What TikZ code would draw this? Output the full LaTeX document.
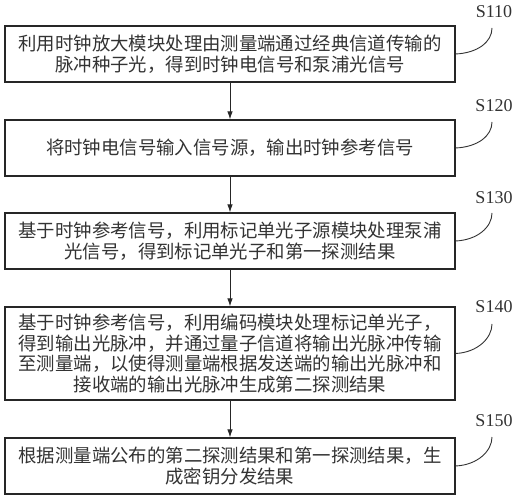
\documentclass[tikz,border=0pt]{standalone}
\usepackage{fontspec}
\setmainfont{Liberation Serif}
\newfontfamily\cjk{Noto Sans CJK SC}
\usetikzlibrary{arrows.meta}
\begin{document}
\begin{tikzpicture}[x=1pt,y=-1pt,
  stepbox/.style={draw=black!85,line width=1.1pt,minimum width=450pt,inner sep=0pt,
     align=center,font=\cjk\fontsize{18.4}{20.5}\selectfont,text=black!80},
  lab/.style={font=\fontsize{18}{18}\selectfont,text=black!80,inner sep=0pt},
  flow/.style={draw=black!85,line width=1pt,-{Latex[length=8pt,width=5.5pt]}},
  lead/.style={draw=black!80,line width=0.9pt}]
\useasboundingbox[fill=white] (0,0) rectangle (520,500);
\node[stepbox,minimum height=56pt] (b1) at (230,54) {利用时钟放大模块处理由测量端通过经典信道传输的\\脉冲种子光，得到时钟电信号和泵浦光信号};
\node[stepbox,minimum height=56pt] (b2) at (230,148) {将时钟电信号输入信号源，输出时钟参考信号};
\node[stepbox,minimum height=56pt] (b3) at (230,241) {基于时钟参考信号，利用标记单光子源模块处理泵浦\\光信号，得到标记单光子和第一探测结果};
\node[stepbox,minimum height=93pt] (b4) at (230,353.5) {基于时钟参考信号，利用编码模块处理标记单光子，\\得到输出光脉冲，并通过量子信道将输出光脉冲传输\\至测量端，以使得测量端根据发送端的输出光脉冲和\\接收端的输出光脉冲生成第二探测结果};
\node[stepbox,minimum height=56pt] (b5) at (230,466) {根据测量端公布的第二探测结果和第一探测结果，生\\成密钥分发结果};
\draw[flow] (b1) -- (b2);
\draw[flow] (b2) -- (b3);
\draw[flow] (b3) -- (b4);
\draw[flow] (b4) -- (b5);
\node[lab] (l1) at (494,12) {S110};
\node[lab] (l2) at (494,106) {S120};
\node[lab] (l3) at (494,198) {S130};
\node[lab] (l4) at (494,307) {S140};
\node[lab] (l5) at (494,421) {S150};
\coordinate (c1) at (492,28);
\coordinate (c2) at (492,122);
\coordinate (c3) at (492,213);
\coordinate (c4) at (492,324);
\coordinate (c5) at (492,437);
\draw[lead] (b1.east) .. controls +(22,-1) and +(0,14) .. (c1);
\draw[lead] (b2.east) .. controls +(22,-1) and +(0,14) .. (c2);
\draw[lead] (b3.east) .. controls +(22,-1) and +(0,14) .. (c3);
\draw[lead] (b4.east) .. controls +(22,-1) and +(0,14) .. (c4);
\draw[lead] (b5.east) .. controls +(22,-1) and +(0,14) .. (c5);
\end{tikzpicture}
\end{document}
